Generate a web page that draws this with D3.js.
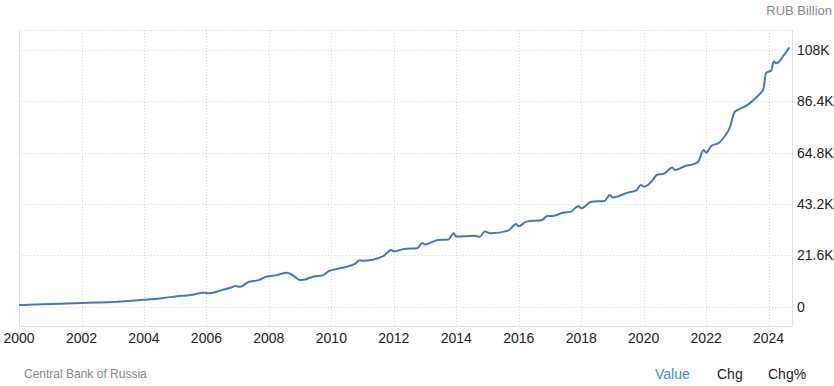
<!DOCTYPE html>
<html>
<head>
<meta charset="utf-8">
<script src="https://cdn.jsdelivr.net/npm/d3@7"></script>
<style>
body { margin: 0; background: #fff; }
text { font-family: "Liberation Sans", Arial, sans-serif; }
</style>
</head>
<body>
<div id="chart"></div>
<script>
//svg dimensions
var xSize = 834;
var ySize = 386;

//money supply, RUB billion
var dates = ["2000-01", "2000-07", "2001-01", "2001-07", "2002-01", "2002-07", "2003-01", "2003-07",
	"2004-01", "2004-07", "2004-12", "2005-01", "2005-07", "2005-12", "2006-02", "2006-07",
	"2006-11", "2006-12", "2007-02", "2007-05", "2007-09", "2007-12", "2008-04", "2008-08",
	"2008-09", "2008-11", "2009-01", "2009-03", "2009-06", "2009-10", "2009-12", "2010-04",
	"2010-10", "2010-12", "2011-01", "2011-09", "2011-12", "2012-01", "2012-05", "2012-10",
	"2012-12", "2013-01", "2013-06", "2013-10", "2013-12", "2014-01", "2014-08", "2014-10",
	"2014-12", "2015-02", "2015-09", "2015-12", "2016-01", "2016-04", "2016-10", "2016-12",
	"2017-02", "2017-06", "2017-09", "2017-12", "2018-01", "2018-05", "2018-10", "2018-12",
	"2019-01", "2019-07", "2019-10", "2019-12", "2020-01", "2020-04", "2020-05", "2020-06",
	"2020-09", "2020-12", "2021-01", "2021-05", "2021-08", "2021-10", "2021-12", "2022-01",
	"2022-03", "2022-06", "2022-08", "2022-10", "2022-12", "2023-01", "2023-05", "2023-08",
	"2023-10", "2023-11", "2023-12", "2024-01", "2024-02", "2024-03", "2024-04", "2024-07",
	"2024-09"];
var values = [720, 900, 1140, 1350, 1560, 1750, 2000, 2450,
	2950, 3500, 4150, 4300, 4900, 5900, 5650, 7000,
	8300, 8700, 8400, 10300, 11200, 12600, 13300, 14300,
	14000, 12600, 11200, 11500, 12600, 13300, 15000, 16100,
	18000, 19600, 19300, 21300, 23900, 23300, 24300, 24600,
	26800, 26200, 28100, 28300, 30900, 29500, 29900, 29400,
	31600, 30900, 32000, 34800, 33900, 35800, 36500, 38200,
	38200, 39500, 40000, 42400, 41400, 44200, 44500, 47000,
	46000, 48000, 48800, 51200, 50500, 52600, 54000, 55400,
	56100, 58600, 57500, 59200, 59900, 61000, 65900, 64800,
	67600, 69000, 71500, 75000, 82000, 82700, 84900, 87700,
	90000, 91500, 98200, 98900, 99300, 103100, 102400, 105900,
	109100];

var xTicks = [2000, 2002, 2004, 2006, 2008, 2010, 2012, 2014, 2016, 2018, 2020, 2022, 2024];
var yTicks = [0, 21600, 43200, 64800, 86400, 108000];
var yLabels = ["0", "21.6K", "43.2K", "64.8K", "86.4K", "108K"];
var unitLabel = "RUB Billion";
var sourceLabel = "Central Bank of Russia";
var tabs = ["Value", "Chg", "Chg%"];

var parse = d3.timeParse("%Y-%m");
var data = dates.map(function(d, i){
	return {date: parse(d), value: values[i]};
});

//plot area
var pLeft = 19, pRight = 792, pTop = 30, pBottom = 326;

var x = d3.scaleTime()
	.domain([new Date(2000, 0, 1), new Date(2024, 9, 1)])
	.range([pLeft, pRight]);

var y = d3.scaleLinear()
	.domain([-8100, 116400])
	.range([pBottom, pTop]);

var svg = d3.select("#chart").append("svg")
	.attr("width", xSize)
	.attr("height", ySize);

//dotted gridlines
svg.selectAll("line.hgrid")
	.data(yTicks.concat([y.invert(pTop)]))
	.enter()
	.append("line")
	.attr("class", "hgrid")
	.attr("x1", pLeft)
	.attr("x2", pRight)
	.attr("y1", function(d){ return Math.round(y(d)) + 0.5; })
	.attr("y2", function(d){ return Math.round(y(d)) + 0.5; })
	.attr("stroke", "#d6d6d6")
	.attr("stroke-dasharray", "1,2");

svg.selectAll("line.vgrid")
	.data(xTicks.slice(1))
	.enter()
	.append("line")
	.attr("class", "vgrid")
	.attr("x1", function(d){ return Math.round(x(new Date(d, 0, 1))) + 0.5; })
	.attr("x2", function(d){ return Math.round(x(new Date(d, 0, 1))) + 0.5; })
	.attr("y1", pTop)
	.attr("y2", pBottom)
	.attr("stroke", "#d6d6d6")
	.attr("stroke-dasharray", "1,2");

//plot frame: left, right and bottom
svg.append("path")
	.attr("d", "M" + (pLeft + 0.5) + "," + pTop + "V" + (pBottom + 0.5) + "H" + (pRight + 0.5) + "V" + pTop)
	.attr("fill", "none")
	.attr("stroke", "#e0e0e0");

//the series
var line = d3.line()
	.x(function(d){ return x(d.date); })
	.y(function(d){ return y(d.value); })
	.curve(d3.curveMonotoneX);

svg.append("path")
	.datum(data)
	.attr("d", line)
	.attr("fill", "none")
	.attr("stroke", "#4a78b5")
	.attr("stroke-width", 2)
	.attr("stroke-linejoin", "round");

//axes labels
svg.selectAll("text.xlab")
	.data(xTicks)
	.enter()
	.append("text")
	.attr("class", "xlab")
	.attr("x", function(d){ return x(new Date(d, 0, 1)); })
	.attr("y", 343)
	.attr("text-anchor", "middle")
	.attr("font-size", 14)
	.attr("fill", "#222")
	.text(function(d){ return d; });

svg.selectAll("text.ylab")
	.data(yTicks)
	.enter()
	.append("text")
	.attr("class", "ylab")
	.attr("x", 797)
	.attr("y", function(d){ return y(d) + 5; })
	.attr("font-size", 14)
	.attr("fill", "#222")
	.text(function(d, i){ return yLabels[i]; });

svg.append("text")
	.attr("x", 832)
	.attr("y", 15)
	.attr("text-anchor", "end")
	.attr("font-size", 13)
	.attr("fill", "#888")
	.text(unitLabel);

svg.append("text")
	.attr("x", 24)
	.attr("y", 378)
	.attr("font-size", 12)
	.attr("fill", "#888")
	.text(sourceLabel);

//tabs under the chart
var tabX = [655, 717, 768];
svg.selectAll("text.tab")
	.data(tabs)
	.enter()
	.append("text")
	.attr("class", "tab")
	.attr("x", function(d, i){ return tabX[i]; })
	.attr("y", 379)
	.attr("font-size", 14)
	.attr("fill", function(d, i){ return i == 0 ? "#3a8fe0" : "#222"; })
	.text(function(d){ return d; });
</script>
</body>
</html>
